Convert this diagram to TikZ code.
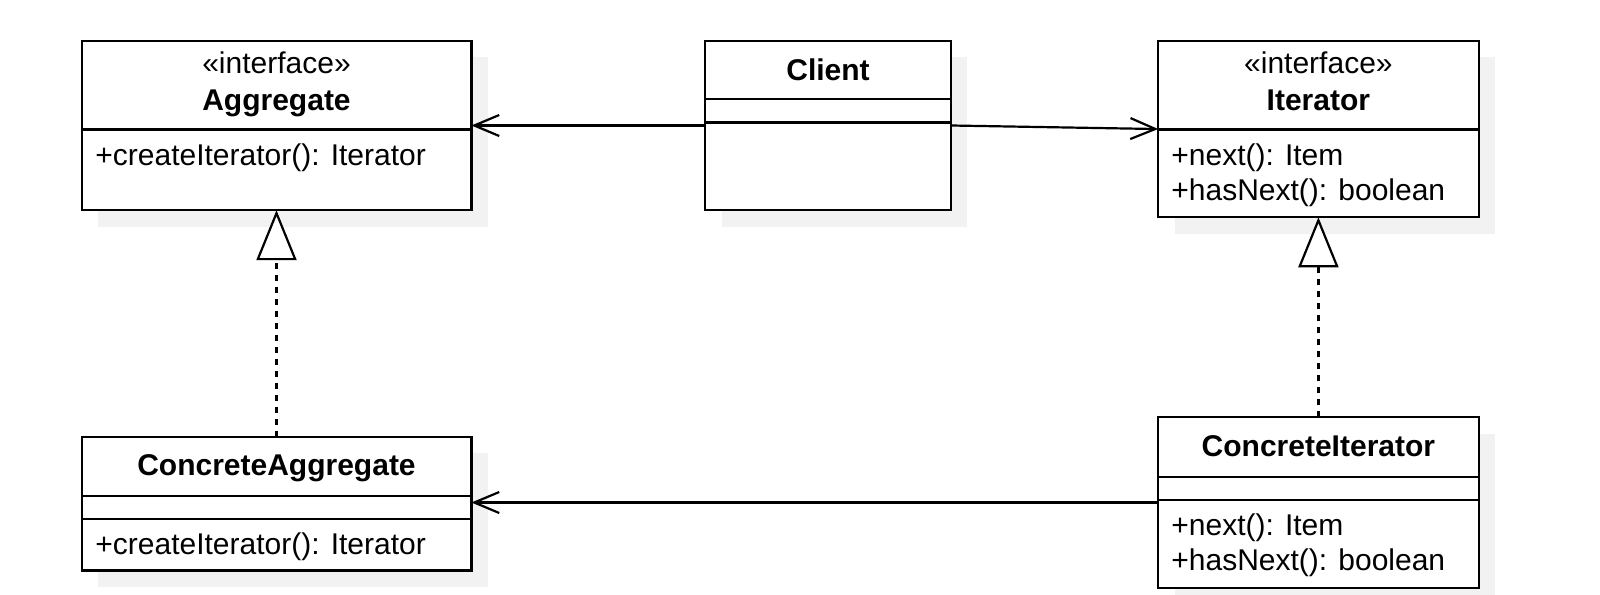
\documentclass[tikz,border=0pt]{standalone}
\usepackage{fontspec}
\setmainfont{Liberation Sans}
\usetikzlibrary{arrows.meta,shadows}
\definecolor{shadowgray}{HTML}{F2F2F2}
\begin{document}
\begin{tikzpicture}[x=0.5pt,y=-0.5pt,
  font=\fontsize{15pt}{17pt}\selectfont,
  cls/.style={draw=black, line width=1.1pt, fill=white, inner sep=0pt, outer sep=0pt,
    drop shadow={shadow xshift=8.2pt, shadow yshift=-8.2pt, fill=shadowgray, opacity=1}},
  divider/.style={line width=1.1pt},
  lbl/.style={inner sep=0pt, anchor=base},
  mlbl/.style={inner sep=0pt, anchor=base west},
  assoc/.style={line width=1.1pt, -{Straight Barb[length=12.5pt, width=10.5pt, line width=1.1pt]}},
  realize/.style={line width=1.1pt, dash pattern=on 3pt off 3pt,
    -{Triangle[open, length=25pt, width=20pt, line width=1.1pt, fill=white]}}]
\useasboundingbox (0,0) rectangle (1600,594);

% classes
\node[cls, minimum width=194.9pt, minimum height=84.7pt] (agg) at (276.5,125.5) {};
\node[cls, minimum width=122.95pt, minimum height=84.7pt] (client) at (828.05,125.5) {};
\node[cls, minimum width=160.2pt, minimum height=88.25pt] (iter) at (1318.4,129.05) {};
\node[cls, minimum width=194.9pt, minimum height=66.85pt] (cagg) at (276.5,503.55) {};
\node[cls, minimum width=160.2pt, minimum height=85.2pt] (citer) at (1318.4,502.5) {};

% dividers
\draw[divider] (agg.west |- 0,129.5) -- (agg.east |- 0,129.5);
\draw[divider] (client.west |- 0,99) -- (client.east |- 0,99);
\draw[divider] (client.west |- 0,122.4) -- (client.east |- 0,122.4);
\draw[divider] (iter.west |- 0,129.5) -- (iter.east |- 0,129.5);
\draw[divider] (cagg.west |- 0,495.9) -- (cagg.east |- 0,495.9);
\draw[divider] (cagg.west |- 0,519) -- (cagg.east |- 0,519);
\draw[divider] (citer.west |- 0,476.8) -- (citer.east |- 0,476.8);
\draw[divider] (citer.west |- 0,500.2) -- (citer.east |- 0,500.2);

% texts
\node[lbl] (aggst) at (276.5,73) {«interface»};
\node[lbl] (aggname) at (276.5,110) {\bfseries Aggregate};
\node[mlbl] (aggm) at (95,165) {+createIterator(): Iterator};

\node[lbl] (clname) at (828.05,80) {\bfseries Client};

\node[lbl] (iterst) at (1318.4,73) {«interface»};
\node[lbl] (itername) at (1318.4,110) {\bfseries Iterator};
\node[mlbl] (iterm1) at (1171,165) {+next(): Item};
\node[mlbl] (iterm2) at (1171,200.5) {+hasNext(): boolean};

\node[lbl] (caggname) at (276.5,475) {\bfseries ConcreteAggregate};
\node[mlbl] (caggm) at (95,554) {+createIterator(): Iterator};

\node[lbl] (citername) at (1318.4,456.5) {\bfseries ConcreteIterator};
\node[mlbl] (citerm1) at (1171,535.5) {+next(): Item};
\node[mlbl] (citerm2) at (1171,570.5) {+hasNext(): boolean};

% connectors
\draw[assoc] (client.west) -- (client.west -| agg.east);
\draw[assoc] (client.east) -- (iter.west);
\draw[assoc] (citer.west) -- (citer.west -| cagg.east);
\draw[realize] (cagg.north) -- (agg.south);
\draw[realize] (citer.north) -- (iter.south);
\end{tikzpicture}
\end{document}
